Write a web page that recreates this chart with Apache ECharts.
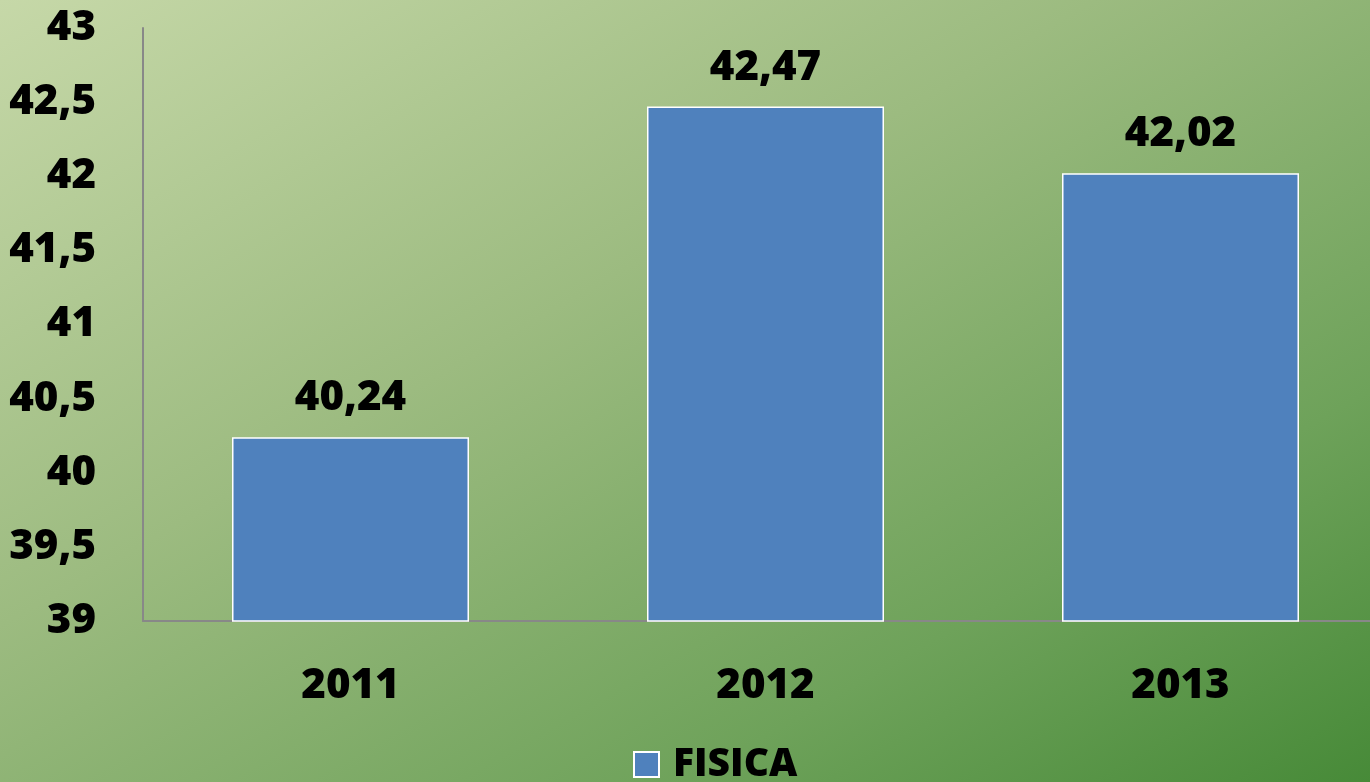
<!DOCTYPE html>
<html>
<head>
<meta charset="utf-8">
<script src="https://cdn.jsdelivr.net/npm/echarts@6/dist/echarts.min.js"></script>
<style>
  html, body { margin: 0; padding: 0; }
  body {
    width: 1370px; height: 782px; overflow: hidden;
    background: linear-gradient(to bottom right, #c6d8a8 0%, #9cbb80 40%, #6ea25a 75%, #478a38 100%);
  }
  #chart { width: 1370px; height: 782px; }
</style>
</head>
<body>
<div id="chart"></div>
<script>
// dati del grafico
const years = ['2011', '2012', '2013'];
const fisica = [40.24, 42.47, 42.02];
const seriesName = 'FISICA';

const fmt = v => String(v).replace('.', ',');
const font = '"Open Sans", "Liberation Sans", sans-serif';

const chart = echarts.init(document.getElementById('chart'));

chart.setOption({
  backgroundColor: 'transparent',
  textStyle: { fontFamily: font },
  grid: { left: 143, width: 1245, top: 28, bottom: 161, containLabel: false, outerBoundsMode: 'none' },
  legend: {
    bottom: -2,
    left: 633,
    padding: 0,
    itemWidth: 25,
    itemHeight: 25,
    icon: 'rect',
    textStyle: { fontSize: 39, fontWeight: 800, color: '#000', fontFamily: font, padding: [0, 0, 0, 9] },
    data: [seriesName]
  },
  xAxis: {
    type: 'category',
    data: years,
    axisLine: { lineStyle: { color: '#888', width: 2 } },
    axisTick: { show: false },
    axisLabel: { fontSize: 42, fontWeight: 800, color: '#000', margin: 44, fontFamily: font }
  },
  yAxis: {
    type: 'value',
    min: 39,
    max: 43,
    interval: 0.5,
    splitLine: { show: false },
    axisLine: { show: true, lineStyle: { color: '#888', width: 2 } },
    axisTick: { show: false },
    axisLabel: {
      fontSize: 42, fontWeight: 800, color: '#000', margin: 47, fontFamily: font,
      formatter: v => fmt(v)
    }
  },
  series: [{
    name: seriesName,
    type: 'bar',
    data: fisica,
    barWidth: 237,
    itemStyle: { color: '#4f81bd', borderColor: '#fff', borderWidth: 1.5 },
    label: {
      show: true,
      position: 'top',
      distance: 18,
      fontSize: 42,
      fontWeight: 800,
      color: '#000',
      fontFamily: font,
      formatter: p => fmt(p.value)
    }
  }]
});
</script>
</body>
</html>
